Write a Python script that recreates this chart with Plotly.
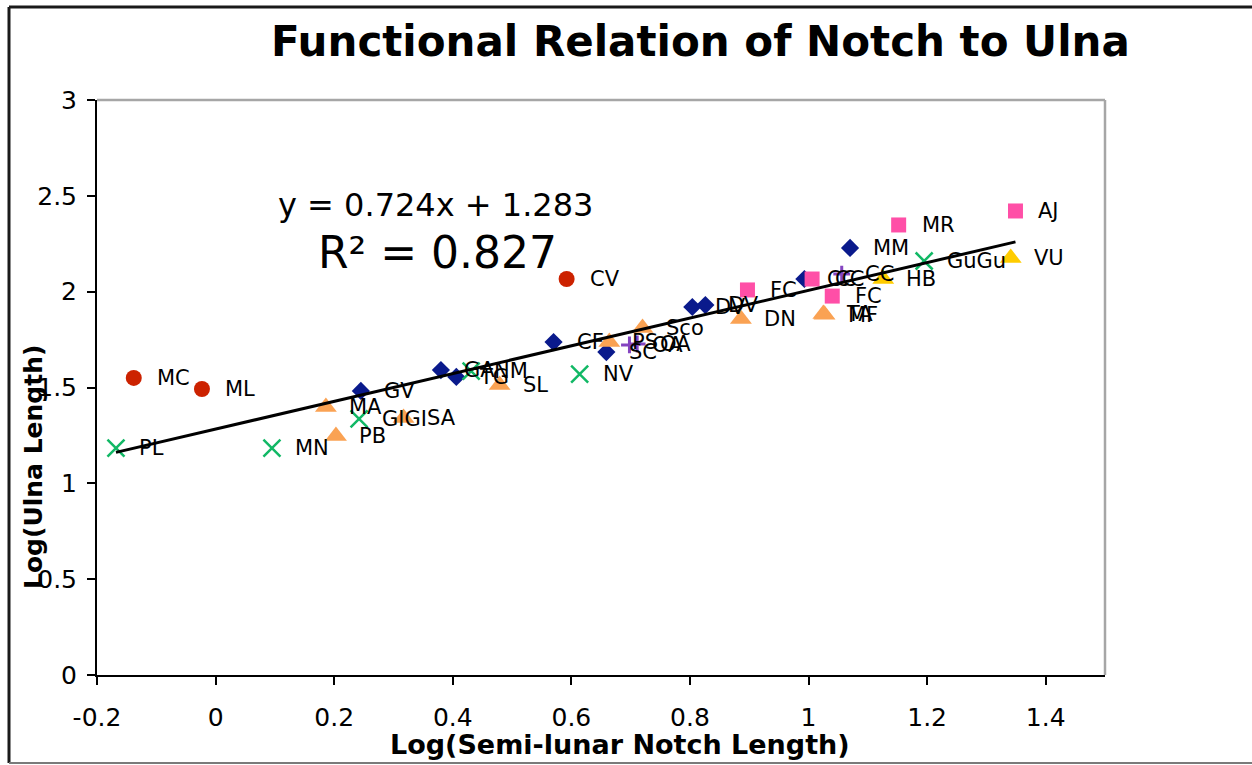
import plotly.graph_objects as go

FONT = "DejaVu Sans"

# ---------------- data ----------------
red_x = [-0.138, -0.023, 0.592]
red_y = [1.550, 1.492, 2.066]
red_lbl = ["MC", "ML", "CV"]

blue_x = [0.245, 0.380, 0.406, 0.570, 0.659, 0.804, 0.826, 0.993, 1.070]
blue_y = [1.482, 1.591, 1.555, 1.737, 1.685, 1.920, 1.930, 2.066, 2.228]
blue_lbl = ["GV", "GA", "TG", "CF", "SC", "DV", "DV", "CC", "MM"]

pink_x = [0.897, 1.006, 1.040, 1.152, 1.349]
pink_y = [2.009, 2.066, 1.977, 2.348, 2.421]
pink_lbl = ["FC", "CC", "FC", "MR", "AJ"]

orange_x = [0.186, 0.203, 0.317, 0.479, 0.664, 0.720, 0.886, 1.025, 1.027]
orange_y = [1.398, 1.247, 1.341, 1.513, 1.737, 1.810, 1.857, 1.883, 1.880]
orange_lbl = ["MA", "PB", "SA", "SL", "PS", "Sco", "DN", "TA", "MF"]

yellow_x = [1.126, 1.341]
yellow_y = [2.066, 2.176]
yellow_lbl = ["HB", "VU"]

green_x = [-0.168, 0.095, 0.242, 0.431, 0.614, 1.195]
green_y = [1.184, 1.184, 1.336, 1.586, 1.570, 2.160]
green_lbl = ["PL", "MN", "GIGI", "NM", "NV", "GuGu"]

purple_x = [0.698, 0.711, 1.056]
purple_y = [1.722, 1.727, 2.092]
purple_lbl = ["OA", "OA", "CC"]

trend_slope = 0.724
trend_intercept = 1.283
trend_r2 = 0.827

x_ticks = [-0.2, 0, 0.2, 0.4, 0.6, 0.8, 1, 1.2, 1.4]
x_ticktext = ["-0.2", "0", "0.2", "0.4", "0.6", "0.8", "1", "1.2", "1.4"]
y_ticks = [0, 0.5, 1, 1.5, 2, 2.5, 3]
y_ticktext = ["0", "0.5", "1", "1.5", "2", "2.5", "3"]

title_text = "Functional Relation of Notch to Ulna"
x_title = "Log(Semi-lunar Notch Length)"
y_title = "Log(Ulna Length)"

# ---------------- figure ----------------
W, H = 1252, 765
ML, MR, MT, MB = 97, 147, 100, 90
PW, PH = W - ML - MR, H - MT - MB


def px_x(p):
    return (p - ML) / PW


def px_y(p):
    return (H - MB - p) / PH


fig = go.Figure()

series = [
    (red_x, red_y, dict(symbol="circle", size=16, color="#CC2200")),
    (blue_x, blue_y, dict(symbol="diamond", size=14, color="#0A1A8C")),
    (pink_x, pink_y, dict(symbol="square", size=15, color="#FF4FA7")),
    (orange_x, orange_y, dict(symbol="triangle-up", size=19, color="#FAA253")),
    (yellow_x, yellow_y, dict(symbol="triangle-up", size=19, color="#FFCC00")),
    (green_x, green_y, dict(symbol="x-thin", size=17, color="#11B865",
                            line=dict(color="#11B865", width=2.5))),
    (purple_x, purple_y, dict(symbol="cross-thin", size=12, color="#8444C0",
                              line=dict(color="#8444C0", width=3))),
]
for xs, ys, mk in series:
    fig.add_trace(go.Scatter(x=xs, y=ys, mode="markers", marker=mk,
                             showlegend=False, hoverinfo="skip"))

all_x = red_x + blue_x + pink_x + orange_x + yellow_x + green_x + purple_x
tx = [min(all_x), max(all_x)]
ty = [trend_slope * v + trend_intercept for v in tx]
fig.add_trace(go.Scatter(x=tx, y=ty, mode="lines",
                         line=dict(color="black", width=3),
                         showlegend=False, hoverinfo="skip"))

annotations = []
for xs, ys, ls in [(red_x, red_y, red_lbl), (blue_x, blue_y, blue_lbl),
                   (pink_x, pink_y, pink_lbl), (orange_x, orange_y, orange_lbl),
                   (yellow_x, yellow_y, yellow_lbl), (green_x, green_y, green_lbl),
                   (purple_x, purple_y, purple_lbl)]:
    for x, y, t in zip(xs, ys, ls):
        annotations.append(dict(x=x, y=y, text=t, xref="x", yref="y",
                                xanchor="left", yanchor="middle", xshift=21,
                                showarrow=False,
                                font=dict(family=FONT, size=21, color="black")))

annotations.append(dict(x=px_x(276), y=px_y(205), xref="paper", yref="paper",
                        text=f"y = {trend_slope}x + {trend_intercept}",
                        xanchor="left", yanchor="middle", showarrow=False,
                        font=dict(family=FONT, size=32, color="black")))
annotations.append(dict(x=px_x(316), y=px_y(252), xref="paper", yref="paper",
                        text=f"R² = {trend_r2}",
                        xanchor="left", yanchor="middle", showarrow=False,
                        font=dict(family=FONT, size=44, color="black")))
annotations.append(dict(x=px_x(620), y=px_y(744), xref="paper", yref="paper",
                        text=x_title, xanchor="center", yanchor="middle",
                        showarrow=False,
                        font=dict(family=FONT, size=27, color="black", weight="bold")))
annotations.append(dict(x=px_x(33), y=px_y(467), xref="paper", yref="paper",
                        text=y_title, textangle=-90, xanchor="center",
                        yanchor="middle", showarrow=False,
                        font=dict(family=FONT, size=25, color="black", weight="bold")))
annotations.append(dict(x=px_x(700), y=px_y(41), xref="paper", yref="paper",
                        text=title_text, xanchor="center", yanchor="middle",
                        showarrow=False,
                        font=dict(family=FONT, size=42, color="black", weight="bold")))

shapes = [
    # plot-area top and right border (grey)
    dict(type="line", xref="paper", yref="paper", x0=0, x1=1, y0=1, y1=1,
         line=dict(color="#A6A6A6", width=2.5), layer="above"),
    dict(type="line", xref="paper", yref="paper", x0=1, x1=1, y0=0, y1=1,
         line=dict(color="#A6A6A6", width=2.5), layer="above"),
    # outer chart frame
    dict(type="line", xref="paper", yref="paper", x0=px_x(9), x1=px_x(9),
         y0=px_y(763), y1=px_y(7), line=dict(color="#1A1A1A", width=3)),
    dict(type="line", xref="paper", yref="paper", x0=px_x(9), x1=px_x(1270),
         y0=px_y(7), y1=px_y(7), line=dict(color="#1A1A1A", width=3)),
    dict(type="line", xref="paper", yref="paper", x0=px_x(9), x1=px_x(1270),
         y0=px_y(763), y1=px_y(763), line=dict(color="#7A7A7A", width=2)),
]

fig.update_layout(
    width=W, height=H,
    margin=dict(l=ML, r=MR, t=MT, b=MB),
    paper_bgcolor="white", plot_bgcolor="white",
    font=dict(family=FONT, color="black"),
    annotations=annotations, shapes=shapes,
    showlegend=False,
    xaxis=dict(range=[-0.2, 1.5], tickvals=x_ticks, ticktext=x_ticktext,
               showline=True, linecolor="black", linewidth=2,
               ticks="outside", ticklen=8, tickwidth=2, tickcolor="black",
               showgrid=False, zeroline=False, ticklabelstandoff=11,
               tickfont=dict(family=FONT, size=25, color="black")),
    yaxis=dict(range=[0, 3], tickvals=y_ticks, ticktext=y_ticktext,
               showline=True, linecolor="black", linewidth=2,
               ticks="outside", ticklen=8, tickwidth=2, tickcolor="black",
               showgrid=False, zeroline=False, ticklabelstandoff=5,
               tickfont=dict(family=FONT, size=25, color="black")),
)

fig.write_html("out.html")
